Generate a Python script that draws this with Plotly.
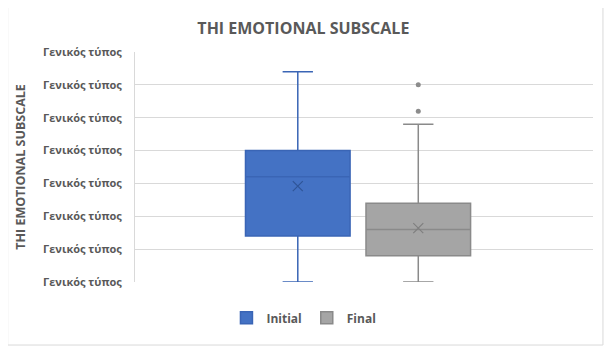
import plotly.graph_objects as go

series = ["Initial", "Final"]
lower = [0, 0]
q1 = [7, 4]
median = [16, 8]
q3 = [20, 12]
upper = [32, 24]
means = [14.6, 8.2]
outliers_final = [30, 26]
tick_vals = [0, 5, 10, 15, 20, 25, 30, 35]
tick_text = ["Γενικός τύπος"] * len(tick_vals)

fills = ["#4472C4", "#A5A5A5"]
lines = ["#3A65B5", "#8A8A8A"]
mean_cols = ["#2F5597", "#7F7F7F"]

fig = go.Figure()
for i, s in enumerate(series):
    fig.add_trace(go.Box(
        name=s, x=[s], q1=[q1[i]], median=[median[i]], q3=[q3[i]],
        lowerfence=[lower[i]], upperfence=[upper[i]],
        fillcolor=fills[i], line=dict(color=lines[i], width=1.5),
        whiskerwidth=0.29, boxpoints=False, showlegend=True,
        hoverinfo="skip",
    ))
for i, s in enumerate(series):
    fig.add_trace(go.Scatter(
        x=[s], y=[means[i]], mode="markers", showlegend=False,
        marker=dict(symbol="x-thin-open", size=10, color=mean_cols[i],
                    line=dict(color=mean_cols[i], width=1.2)),
        hoverinfo="skip",
    ))
fig.add_trace(go.Scatter(
    x=["Final"] * len(outliers_final), y=outliers_final, mode="markers",
    showlegend=False, marker=dict(symbol="circle", size=5, color="#8C8C8C"),
    hoverinfo="skip",
))

fig.update_layout(
    width=604, height=342,
    margin=dict(l=125, r=19, t=44, b=68),
    paper_bgcolor="white", plot_bgcolor="white",
    boxgap=0.132, boxgroupgap=0,
    title=dict(text="THI EMOTIONAL SUBSCALE", x=0.489, xref="container",
               xanchor="center", y=0.94, yanchor="middle",
               font=dict(family="Open Sans", size=16, color="#595959", weight="bold")),
    font=dict(family="Open Sans", color="#595959"),
    xaxis=dict(type="category", categoryorder="array", categoryarray=series,
               range=[-1.351, 2.450], showticklabels=False, showgrid=False,
               zeroline=False, showline=False, ticks=""),
    yaxis=dict(range=[0, 35], tickvals=tick_vals, ticktext=tick_text,
               showgrid=True, gridcolor="#D9D9D9", gridwidth=1,
               zeroline=False, showline=True, linecolor="#D9D9D9", linewidth=1,
               ticks="", ticklabelstandoff=10,
               tickfont=dict(family="Open Sans", size=11, color="#595959", weight="bold"),
               title=dict(text="THI EMOTIONAL SUBSCALE", standoff=14,
                          font=dict(family="Open Sans", size=12.5, color="#595959", weight="bold"))),
    legend=dict(orientation="h", x=0.49, xref="container", xanchor="center",
                y=0.094, yref="container", yanchor="middle",
                font=dict(family="Open Sans", size=12, color="#595959", weight="bold"),
                itemwidth=30),
    shapes=[dict(type="rect", xref="paper", yref="paper",
                 x0=-0.278, x1=1.0217, y0=-0.274, y1=1.2,
                 line=dict(color="#D9D9D9", width=1), layer="below")],
)

fig.write_html("out.html")
